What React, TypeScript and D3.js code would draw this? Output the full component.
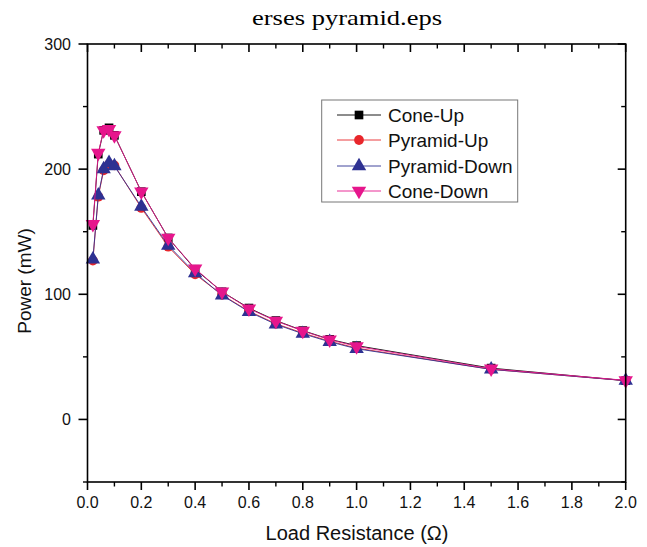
import React from "react";
import * as d3 from "d3";

const loads = [0.02, 0.04, 0.06, 0.08, 0.1, 0.2, 0.3, 0.4, 0.5, 0.6, 0.7, 0.8, 0.9, 1.0, 1.5, 2.0];
const coneUp = [155, 212, 231, 233, 227, 182, 145, 120, 102, 89, 79, 71, 64, 59, 41, 31];
const pyramidUp = [127, 178, 199, 204, 203, 169, 138, 116, 99.5, 86.5, 76.5, 69, 62.5, 57, 40, 31];
const pyramidDown = [128, 179, 200, 205, 202.5, 170, 139, 117, 99.2, 86, 76, 68.5, 62, 56.5, 40, 31];
const coneDown = [156, 213, 231, 232, 227, 182, 145, 120.5, 102, 88.5, 78.7, 70.7, 63.7, 58.4, 40.5, 31.2];

const seriesNames = ["Cone-Up", "Pyramid-Up", "Pyramid-Down", "Cone-Down"];
const seriesValues = [coneUp, pyramidUp, pyramidDown, coneDown];
const seriesColors = ["#000000", "#e8262b", "#2e3192", "#e6168c"];
const seriesSymbols = [d3.symbolSquare, d3.symbolCircle, d3.symbolTriangle, d3.symbolTriangle];
const seriesRotate = [0, 0, 0, 180];

const xMajor = [0, 0.2, 0.4, 0.6, 0.8, 1.0, 1.2, 1.4, 1.6, 1.8, 2.0];
const xMinor = [0.1, 0.3, 0.5, 0.7, 0.9, 1.1, 1.3, 1.5, 1.7, 1.9];
const yMajor = [0, 100, 200, 300];
const yMinor = [-50, 50, 150, 250];

const title = "erses pyramid.eps";
const xTitle = "Load Resistance (\u03A9)";
const yTitle = "Power (mW)";

export default function App() {
  const W = 647, H = 547;
  const L = 87.5, R = 625.7, T = 44, B = 482;
  const x = d3.scaleLinear().domain([0, 2]).range([L, R]);
  const y = d3.scaleLinear().domain([-50, 300]).range([B, T]);
  const line = d3.line<number>().x((_, i) => x(loads[i])).y((v) => y(v));
  const font = "'Liberation Sans', Arial, sans-serif";
  const sizes = [75, 75, 90, 90];
  const legendRows = [115, 140, 166, 191];

  return (
    <svg width={W} height={H} style={{ position: "absolute", left: 0, top: 0, background: "#fff" }}>
      <rect x={0} y={0} width={W} height={H} fill="#fff" />
      <text x={347} y={25} textAnchor="middle" fontFamily="'Liberation Serif', 'Times New Roman', serif" fontSize={21.5} textLength={190} lengthAdjust="spacingAndGlyphs" fill="#000">{title}</text>

      {/* series */}
      {seriesValues.map((vals, si) => (
        <g key={si}>
          <path d={line(vals) || ""} fill="none" stroke={seriesColors[si]} strokeWidth={0.9} />
          {vals.map((v, i) => (
            <path key={i} d={d3.symbol(seriesSymbols[si], sizes[si])() || ""}
              transform={`translate(${x(loads[i])},${y(v)}) rotate(${seriesRotate[si]})`}
              fill={seriesColors[si]} />
          ))}
        </g>
      ))}

      {/* frame */}
      <rect x={L} y={T} width={R - L} height={B - T} fill="none" stroke="#000" strokeWidth={1.6} />

      {/* x ticks */}
      {xMajor.map((t) => (
        <g key={"xm" + t}>
          <line x1={x(t)} x2={x(t)} y1={B} y2={B + 8} stroke="#000" strokeWidth={1.6} />
          <line x1={x(t)} x2={x(t)} y1={T} y2={T + 8} stroke="#000" strokeWidth={1.6} />
          <text x={x(t)} y={508} textAnchor="middle" fontFamily={font} fontSize={16} fill="#111">{t.toFixed(1)}</text>
        </g>
      ))}
      {xMinor.map((t) => (
        <g key={"xn" + t}>
          <line x1={x(t)} x2={x(t)} y1={B} y2={B + 4.5} stroke="#000" strokeWidth={1.4} />
          <line x1={x(t)} x2={x(t)} y1={T} y2={T + 4.5} stroke="#000" strokeWidth={1.4} />
        </g>
      ))}

      {/* y ticks */}
      {yMajor.map((t) => (
        <g key={"ym" + t}>
          <line x1={L - 9} x2={L} y1={y(t)} y2={y(t)} stroke="#000" strokeWidth={1.6} />
          <line x1={R - 8} x2={R} y1={y(t)} y2={y(t)} stroke="#000" strokeWidth={1.6} />
          <text x={71} y={y(t)} dy="0.35em" textAnchor="end" fontFamily={font} fontSize={16} fill="#111">{t}</text>
        </g>
      ))}
      {yMinor.map((t) => (
        <g key={"yn" + t}>
          <line x1={L - 4.5} x2={L} y1={y(t)} y2={y(t)} stroke="#000" strokeWidth={1.4} />
          <line x1={R - 4.5} x2={R} y1={y(t)} y2={y(t)} stroke="#000" strokeWidth={1.4} />
        </g>
      ))}

      {/* axis titles */}
      <text x={357} y={540} textAnchor="middle" fontFamily={font} fontSize={20} fill="#111">{xTitle}</text>
      <text transform="translate(31,281) rotate(-90)" textAnchor="middle" fontFamily={font} fontSize={19} fill="#111">{yTitle}</text>

      {/* legend */}
      <rect x={321.7} y={100} width={196} height={102} fill="#fff" stroke="#777" strokeWidth={1} />
      {seriesNames.map((n, si) => (
        <g key={n}>
          <line x1={337} x2={381} y1={legendRows[si]} y2={legendRows[si]} stroke={seriesColors[si]} strokeWidth={0.9} />
          <path d={d3.symbol(seriesSymbols[si], sizes[si])() || ""}
            transform={`translate(359,${legendRows[si]}) rotate(${seriesRotate[si]})`} fill={seriesColors[si]} />
          <text x={388} y={legendRows[si]} dy="0.35em" fontFamily={font} fontSize={19} fill="#111">{n}</text>
        </g>
      ))}
    </svg>
  );
}
